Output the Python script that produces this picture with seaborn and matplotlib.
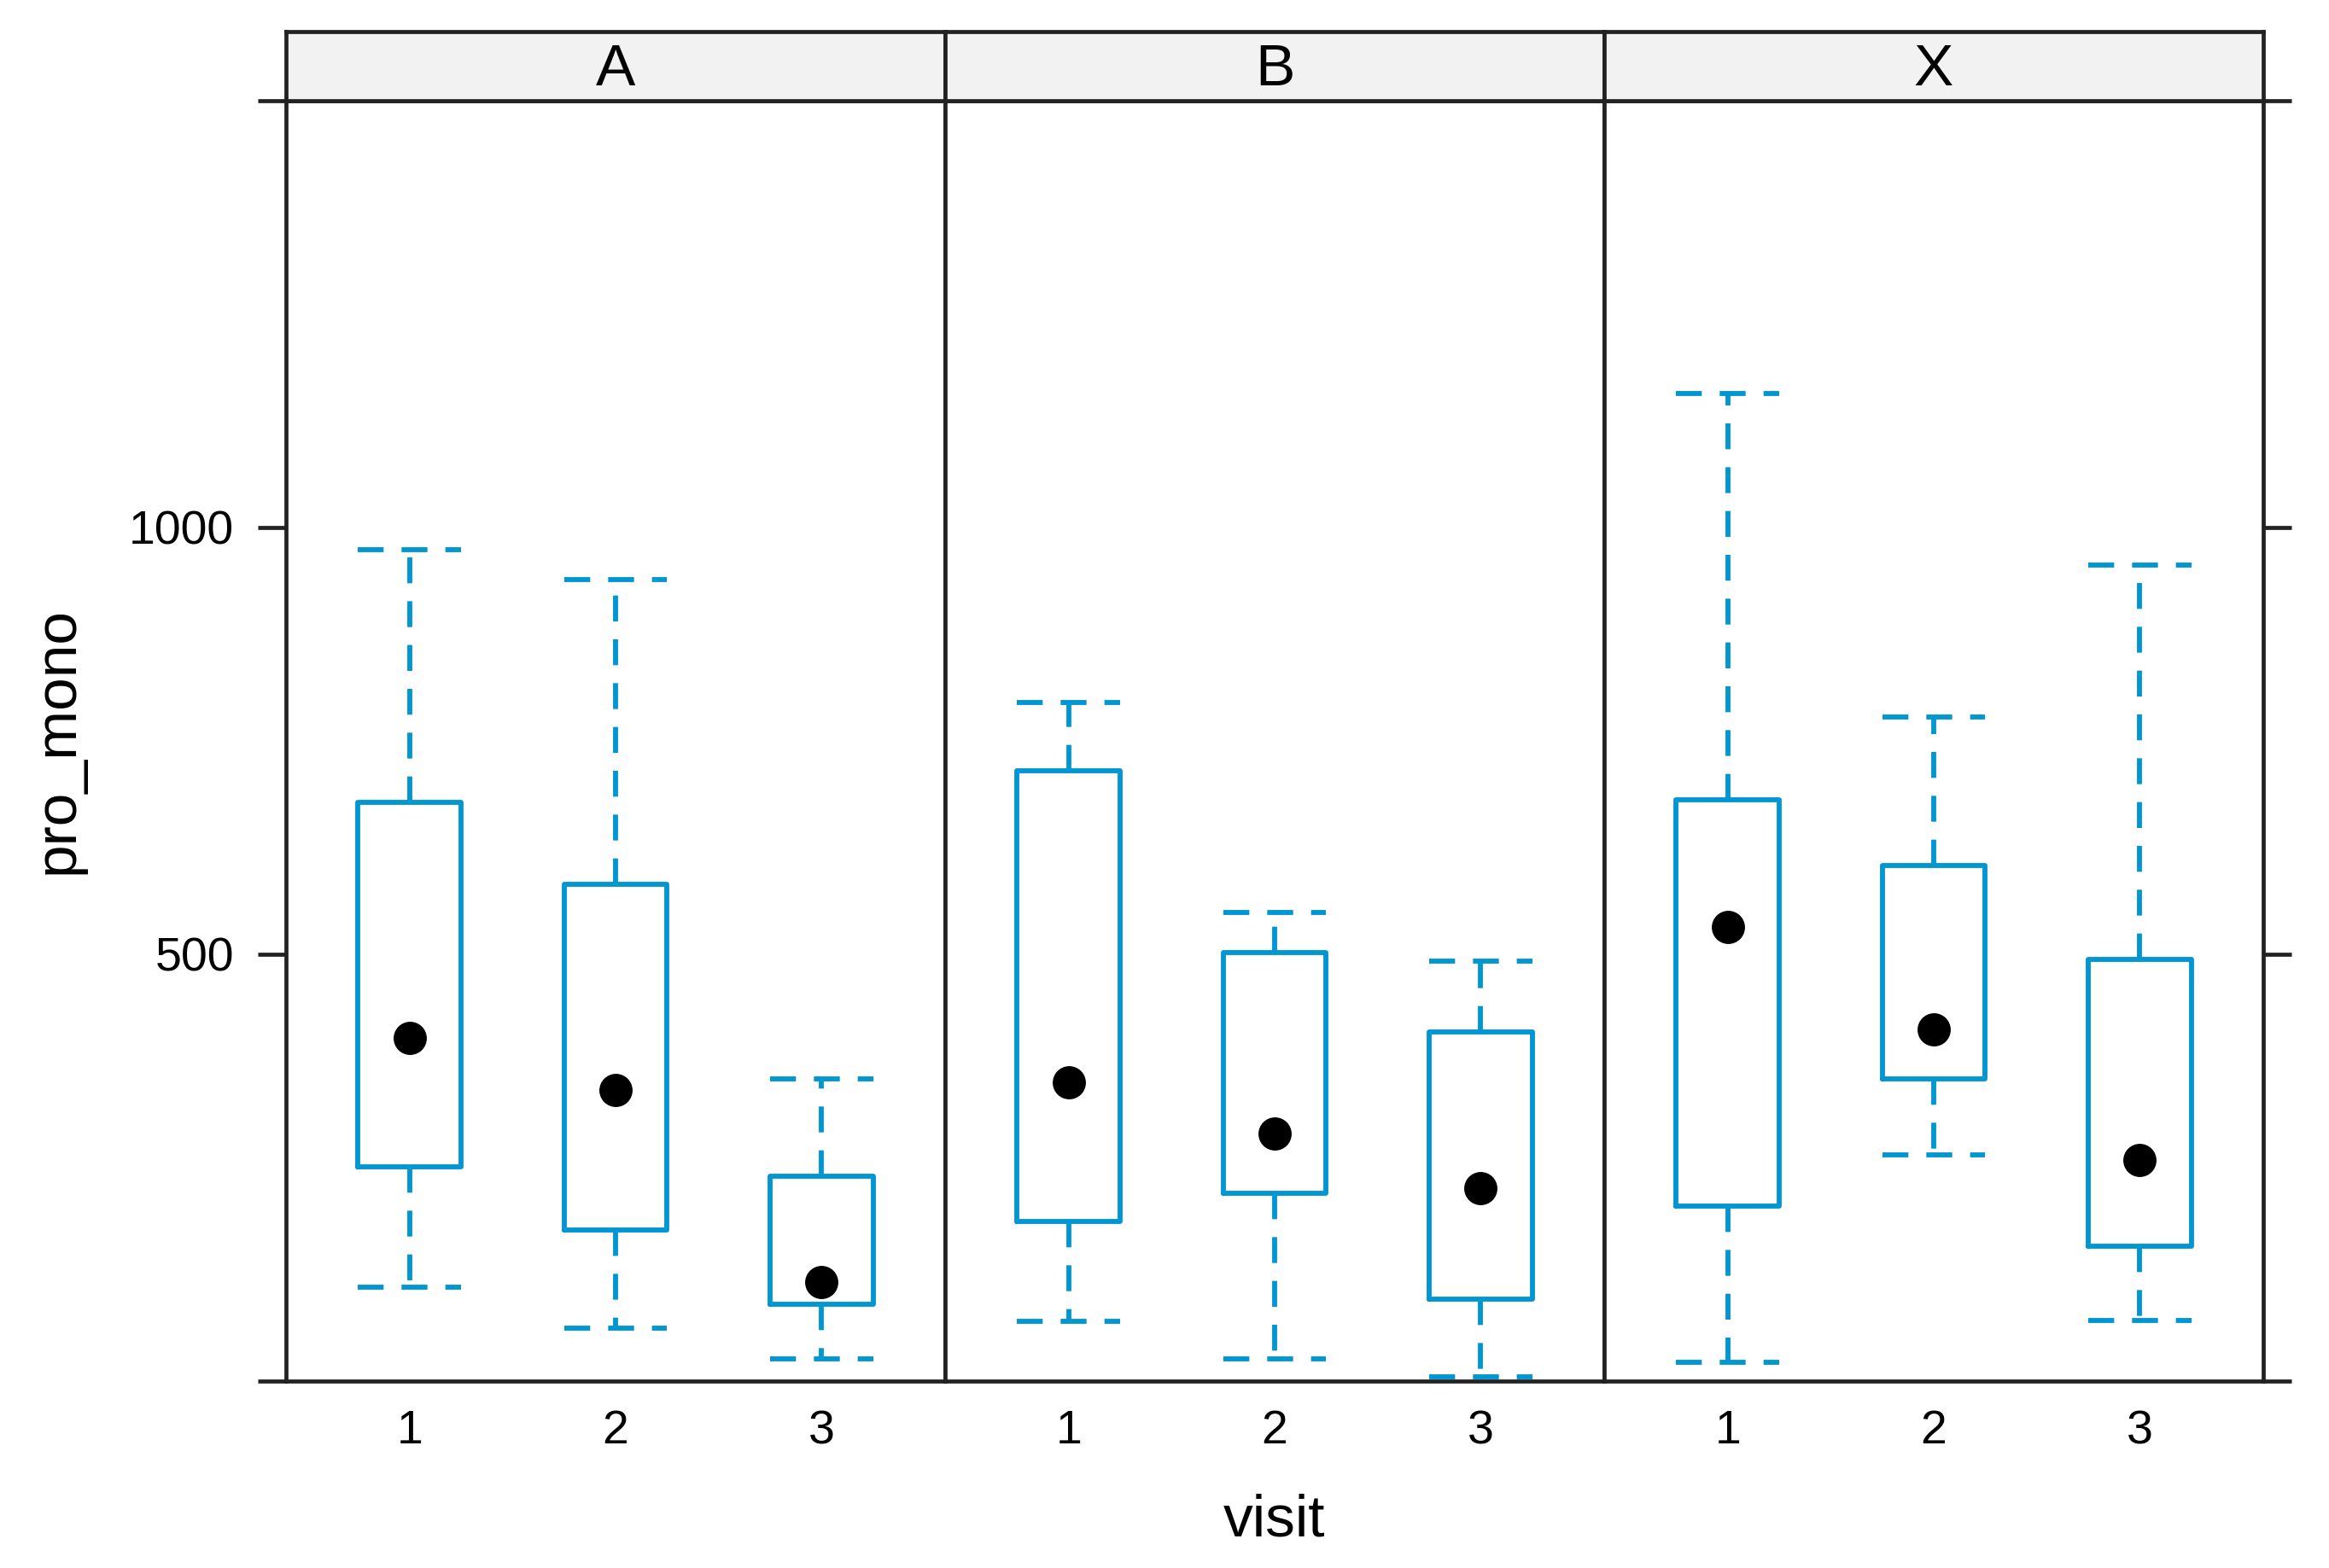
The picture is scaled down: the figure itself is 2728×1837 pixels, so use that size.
import numpy as np
import pandas as pd
import matplotlib
matplotlib.use("Agg")
import matplotlib.pyplot as plt
import seaborn as sns

# ---- data (five-number summaries) ----
groups = ["A", "B", "X"]
visits = ["1", "2", "3"]
whisk_low = {"A": [110, 62, 26], "B": [70, 26, 5], "X": [22, 265, 71]}
q1 = {"A": [251, 177, 90], "B": [187, 220, 96], "X": [205, 354, 158]}
median = {"A": [402, 341, 116], "B": [350, 290, 226], "X": [532, 412, 259]}
q3 = {"A": [678, 582, 240], "B": [715, 502, 409], "X": [681, 604, 494]}
whisk_high = {"A": [974, 939, 354], "B": [795, 549, 492], "X": [1157, 778, 956]}
y_ticks = [0, 500, 1000, 1500]
y_ticklabels = ["", "500", "1000", ""]

rows = []
for g in groups:
    for i, v in enumerate(visits):
        for val in (whisk_low[g][i], q1[g][i], median[g][i], q3[g][i], whisk_high[g][i]):
            rows.append({"group": g, "visit": v, "pro_mono": val})
df = pd.DataFrame(rows)
med_df = pd.DataFrame([{"group": g, "visit": v, "pro_mono": median[g][i]}
                       for g in groups for i, v in enumerate(visits)])

# ---- style ----
sns.set_style("white")
plt.rcParams["font.family"] = ["Liberation Sans", "DejaVu Sans"]
plt.rcParams["text.color"] = "black"
BLUE = "#0096D2"
FRAME = "#222222"
LW = 2.1

W, H, DPI = 2728, 1837, 200
fig = plt.figure(figsize=(W / DPI, H / DPI), dpi=DPI)

left, right = 335 / W, 2651 / W
bottom, top = 1 - 1618 / H, 1 - 118 / H
strip_top = 1 - 37 / H
pw = (right - left) / 3

dash = (0, (5.2, 3.6))
for k, g in enumerate(groups):
    ax = fig.add_axes([left + k * pw, bottom, pw, top - bottom])
    sub = df[df["group"] == g]
    sns.boxplot(data=sub, x="visit", y="pro_mono", order=visits, ax=ax,
                color=BLUE, fill=False, width=0.5, whis=(0, 100),
                linewidth=LW, showfliers=False,
                boxprops=dict(color=BLUE, linewidth=LW),
                whiskerprops=dict(color=BLUE, linestyle=dash, linewidth=LW),
                capprops=dict(color=BLUE, linestyle=dash, linewidth=LW),
                capwidths=0.5,
                medianprops=dict(visible=False))
    sns.stripplot(data=med_df[med_df["group"] == g], x="visit", y="pro_mono",
                  order=visits, ax=ax, color="black", size=14, jitter=False,
                  linewidth=0, zorder=5)
    ax.set_xlim(-0.6, 2.6)
    ax.set_ylim(0, 1500)
    ax.set_xlabel("")
    ax.set_ylabel("")
    ax.set_yticks(y_ticks)
    for s in ax.spines.values():
        s.set_visible(True)
        s.set_color(FRAME)
        s.set_linewidth(1.7)
    ax.tick_params(axis="x", length=0, pad=12, labelsize=20, colors="black")
    if k == 0:
        ax.set_yticklabels(y_ticklabels)
        ax.tick_params(axis="y", left=True, right=False, length=12, width=1.7,
                       color=FRAME, labelcolor="black", direction="out",
                       pad=10, labelsize=20)
    elif k == 2:
        ax.set_yticklabels([])
        ax.tick_params(axis="y", left=False, right=True, labelleft=False,
                       length=12, width=1.7, color=FRAME, direction="out")
    else:
        ax.set_yticklabels([])
        ax.tick_params(axis="y", left=False, right=False, labelleft=False)

    sax = fig.add_axes([left + k * pw, top, pw, strip_top - top])
    sax.set_facecolor("#F2F2F2")
    sax.set_xticks([])
    sax.set_yticks([])
    for s in sax.spines.values():
        s.set_visible(True)
        s.set_color(FRAME)
        s.set_linewidth(1.7)
    sax.text(0.5, 0.45, g, ha="center", va="center", fontsize=25,
             color="black", transform=sax.transAxes)

fig.text((left + right) / 2, 1 - 1781 / H, "visit", ha="center", va="center",
         fontsize=25, color="black")
fig.text(68 / W, (bottom + top) / 2, "pro_mono", ha="center", va="center",
         rotation=90, fontsize=25, color="black")

fig.savefig("out.png", dpi=DPI)
